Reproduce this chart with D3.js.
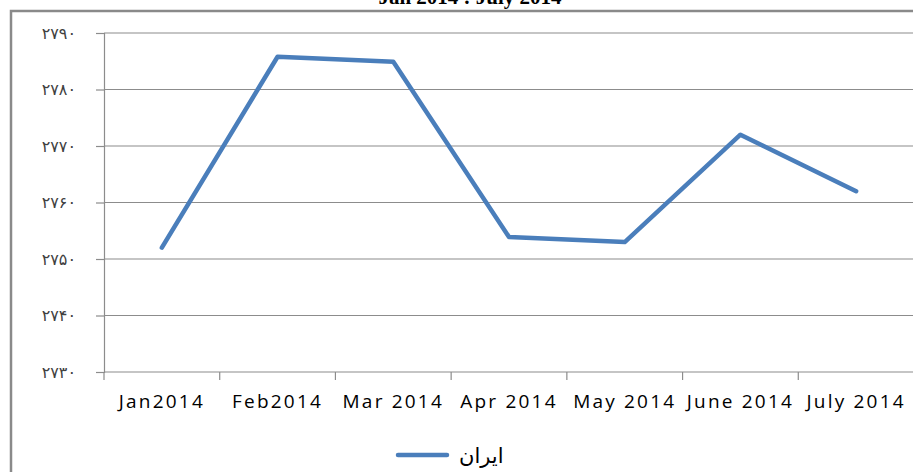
<!DOCTYPE html>
<html>
<head>
<meta charset="utf-8">
<script src="https://cdn.jsdelivr.net/npm/d3@7"></script>
<style>
  body { margin: 0; background: #fff; }
  svg { display: block; }
</style>
</head>
<body>
<div id="chart"></div>
<script>
// chart data
const months = ["Jan2014", "Feb2014", "Mar 2014", "Apr 2014", "May 2014", "June 2014", "July 2014"];
const iranValues = [2752, 2785.8, 2784.9, 2753.9, 2753, 2772, 2762];
const yTicks = [2730, 2740, 2750, 2760, 2770, 2780, 2790];
const seriesName = "ایران";
const titleText = "Jan 2014 : July 2014";

const width = 913, height = 472;
const margin = { top: 33, right: 0, bottom: 100, left: 104 };

const svg = d3.select("#chart").append("svg")
    .attr("width", width)
    .attr("height", height);

// clipped title (chart was cropped from top)
svg.append("text")
    .attr("x", 470)
    .attr("y", 4)
    .attr("text-anchor", "middle")
    .attr("font-family", "Liberation Serif, Times New Roman, serif")
    .attr("font-size", 21)
    .attr("font-weight", "bold")
    .attr("fill", "#000")
    .text(titleText);

// outer chart frame
svg.append("path")
    .attr("d", `M11,${height} V11 H${width}`)
    .attr("fill", "none")
    .attr("stroke", "#8a8a8a")
    .attr("stroke-width", 2.5);

const x = d3.scaleBand()
    .domain(months)
    .range([margin.left, 913 + 1]);

const y = d3.scaleLinear()
    .domain([2730, 2790])
    .range([372, margin.top]);

const toPersian = n => String(n).replace(/\d/g, c => "۰۱۲۳۴۵۶۷۸۹"[+c]);

// gridlines
svg.append("g")
    .selectAll("line")
    .data(yTicks)
    .join("line")
    .attr("x1", margin.left)
    .attr("x2", width)
    .attr("y1", d => y(d))
    .attr("y2", d => y(d))
    .attr("stroke", "#8c8c8c")
    .attr("stroke-width", 1.2);

// y axis
const yAxis = svg.append("g")
    .attr("transform", `translate(${margin.left},0)`)
    .call(d3.axisLeft(y).tickValues(yTicks).tickSize(8).tickPadding(20).tickFormat(toPersian));
yAxis.select(".domain").attr("stroke", "#8c8c8c").attr("stroke-width", 1.2);
yAxis.selectAll(".tick line").attr("stroke", "#8c8c8c").attr("stroke-width", 1.2);
yAxis.selectAll(".tick text")
    .attr("font-family", "DejaVu Sans, sans-serif")
    .attr("font-size", 16)
    .attr("letter-spacing", 3)
    .attr("fill", "#404040");

// x axis
const xAxis = svg.append("g")
    .attr("transform", `translate(0,${y(2730)})`)
    .call(d3.axisBottom(x).tickSize(0).tickPadding(23));
xAxis.select(".domain").remove();
xAxis.selectAll(".tick text")
    .attr("font-family", "Open Sans, sans-serif")
    .attr("font-size", 19)
    .attr("letter-spacing", 2.2)
    .attr("fill", "#000");

// category tick marks at band boundaries
svg.append("g")
    .selectAll("line")
    .data(months)
    .join("line")
    .attr("x1", d => x(d))
    .attr("x2", d => x(d))
    .attr("y1", y(2730))
    .attr("y2", y(2730) + 8)
    .attr("stroke", "#8c8c8c")
    .attr("stroke-width", 1.2);

// series line
const line = d3.line()
    .x((d, i) => x(months[i]) + x.bandwidth() / 2)
    .y(d => y(d));

svg.append("path")
    .datum(iranValues)
    .attr("d", line)
    .attr("fill", "none")
    .attr("stroke", "#4a7ebb")
    .attr("stroke-width", 4.5)
    .attr("stroke-linejoin", "round")
    .attr("stroke-linecap", "round");

// legend
const legend = svg.append("g").attr("transform", "translate(398,455)");
legend.append("line")
    .attr("x1", 0).attr("x2", 49)
    .attr("stroke", "#4a7ebb")
    .attr("stroke-width", 4.5)
    .attr("stroke-linecap", "round");
legend.append("text")
    .attr("x", 61)
    .attr("y", 8)
    .attr("font-family", "DejaVu Sans, sans-serif")
    .attr("font-size", 21)
    .attr("fill", "#000")
    .text(seriesName);
</script>
</body>
</html>
